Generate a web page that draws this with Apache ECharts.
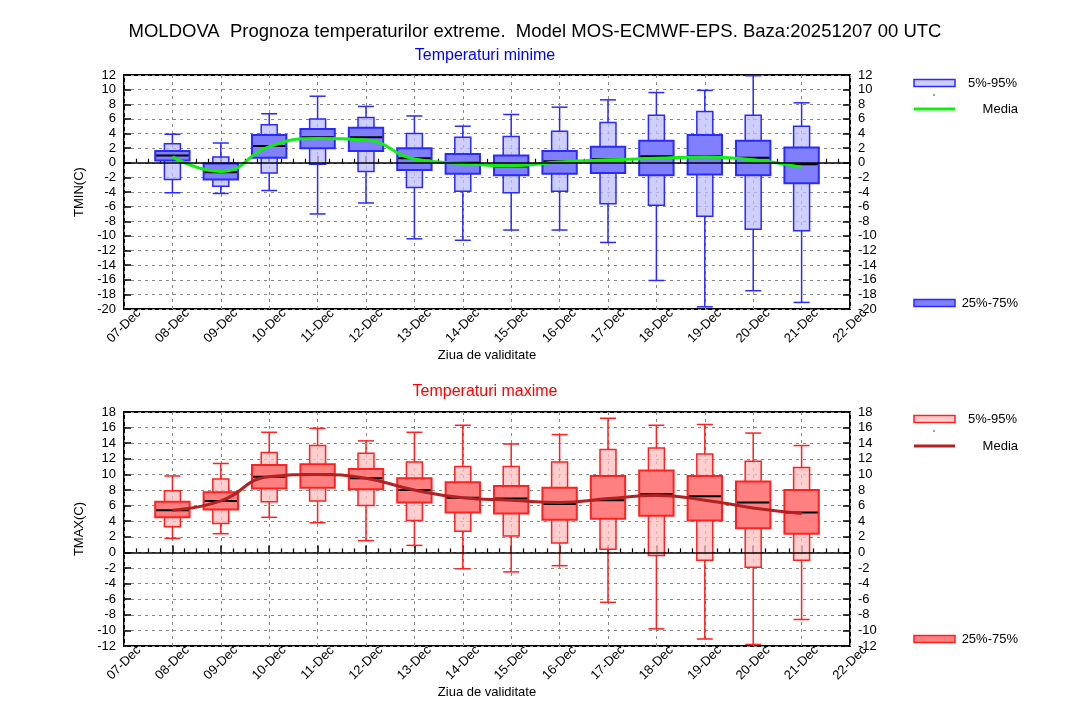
<!DOCTYPE html>
<html><head><meta charset="utf-8">
<script src="https://cdn.jsdelivr.net/npm/echarts@6/dist/echarts.min.js"></script>
<style>html,body{margin:0;padding:0;background:#fff}#c{width:1091px;height:723px}</style>
</head><body><div id="c"></div>
<script>
const tickLabels = ['07-Dec','08-Dec','09-Dec','10-Dec','11-Dec','12-Dec','13-Dec','14-Dec','15-Dec','16-Dec','17-Dec','18-Dec','19-Dec','20-Dec','21-Dec','22-Dec'];
const days = ['08-Dec','09-Dec','10-Dec','11-Dec','12-Dec','13-Dec','14-Dec','15-Dec','16-Dec','17-Dec','18-Dec','19-Dec','20-Dec','21-Dec'];

const tminMin  = [-4.1,-4.2,-3.8,-7.0,-5.5,-10.4,-10.6,-9.2,-9.2,-10.9,-16.1,-19.7,-17.5,-19.1];
const tminP5   = [-2.3,-3.2,-1.4,-0.2,-1.2,-3.4,-3.9,-4.1,-3.9,-5.6,-5.8,-7.3,-9.1,-9.3];
const tminP25  = [0.3,-2.3,0.7,2.0,1.6,-1.0,-1.5,-1.7,-1.5,-1.4,-1.7,-1.6,-1.7,-2.8];
const tminMed  = [1.0,-1.3,2.3,3.5,3.5,0.6,0.0,-0.5,0.2,0.5,0.9,0.9,0.7,-0.2];
const tminP75  = [1.6,-0.1,3.8,4.6,4.8,2.0,1.2,1.0,1.6,2.2,3.0,3.8,3.0,2.1];
const tminP95  = [2.6,0.8,5.2,6.0,6.2,4.0,3.5,3.6,4.3,5.5,6.5,7.0,6.5,5.0];
const tminMax  = [3.9,2.7,6.7,9.1,7.7,6.4,5.0,6.6,7.6,8.6,9.6,9.9,11.9,8.2];
const tminMean = [0.8,-1.2,2.2,3.3,3.1,0.5,-0.1,-0.4,0.1,0.4,0.6,0.8,0.4,-0.6];

const tmaxMin  = [1.8,2.4,4.5,3.8,1.5,0.9,-2.1,-2.5,-1.7,-6.4,-9.8,-11.1,-11.8,-8.6];
const tmaxP5   = [3.3,3.7,6.5,6.6,6.0,4.1,2.7,2.1,1.2,0.4,-0.4,-1.0,-1.9,-1.0];
const tmaxP25  = [4.5,5.5,8.2,8.3,8.1,6.4,5.1,5.0,4.2,4.3,4.7,4.1,3.1,2.4];
const tmaxMed  = [5.4,6.6,9.7,10.0,9.5,8.0,7.0,6.9,6.2,6.7,7.5,7.2,6.4,5.1];
const tmaxP75  = [6.5,7.7,11.2,11.3,10.7,9.5,9.0,8.5,8.3,9.8,10.5,9.8,9.1,8.0];
const tmaxP95  = [7.9,9.4,12.8,13.7,12.7,11.6,11.0,11.0,11.6,13.2,13.4,12.6,11.7,10.9];
const tmaxMax  = [9.8,11.4,15.4,15.9,14.3,15.4,16.3,13.9,15.1,17.2,16.3,16.4,15.3,13.7];
const tmaxMean = [5.4,6.6,9.7,10.0,9.5,8.0,7.0,6.7,6.4,6.9,7.3,6.7,5.7,5.0];

const FONT = '"Liberation Sans", Arial, Helvetica, sans-serif';
const FS = 13;
const xi = d => tickLabels.indexOf(d);

function boxData(mn, p5, p25, md, p75, p95, mx) {
  return days.map((d, i) => [xi(d), mn[i], p5[i], p25[i], md[i], p75[i], p95[i], mx[i]]);
}
function meanData(m) { return days.map((d, i) => [xi(d), m[i]]); }

function outerRender(stroke, fill) {
  return function (params, api) {
    const x = api.value(0);
    const w = api.size([1, 0])[0] * 0.33;
    const pMin = api.coord([x, api.value(1)]);
    const p5 = api.coord([x, api.value(2)]);
    const p95 = api.coord([x, api.value(6)]);
    const pMax = api.coord([x, api.value(7)]);
    const cx = p5[0];
    const ls = { stroke: stroke, lineWidth: 1.5 };
    return { type: 'group', children: [
      { type: 'rect', shape: { x: cx - w / 2, y: p95[1], width: w, height: p5[1] - p95[1] }, style: { fill: fill, stroke: stroke, lineWidth: 1.5 } },
      { type: 'line', shape: { x1: cx, y1: p95[1], x2: cx, y2: pMax[1] }, style: ls },
      { type: 'line', shape: { x1: cx, y1: p5[1], x2: cx, y2: pMin[1] }, style: ls },
      { type: 'line', shape: { x1: cx - w / 2, y1: pMax[1], x2: cx + w / 2, y2: pMax[1] }, style: ls },
      { type: 'line', shape: { x1: cx - w / 2, y1: pMin[1], x2: cx + w / 2, y2: pMin[1] }, style: ls }
    ]};
  };
}
function innerRender(stroke, fill) {
  return function (params, api) {
    const x = api.value(0);
    const w = api.size([1, 0])[0] * 0.71;
    const p25 = api.coord([x, api.value(3)]);
    const pm = api.coord([x, api.value(4)]);
    const p75 = api.coord([x, api.value(5)]);
    const cx = p25[0];
    return { type: 'group', children: [
      { type: 'rect', shape: { x: cx - w / 2, y: p75[1], width: w, height: p25[1] - p75[1] }, style: { fill: fill, stroke: stroke, lineWidth: 2 } },
      { type: 'line', shape: { x1: cx - w / 2 + 1, y1: pm[1], x2: cx + w / 2 - 1, y2: pm[1] }, style: { stroke: '#000', lineWidth: 2 } }
    ]};
  };
}

const gridTop = { left: 124, right: 241, top: 75, height: 234, show: true, borderColor: '#000', borderWidth: 2, backgroundColor: 'transparent' };
const gridBot = { left: 124, right: 241, top: 412, height: 234, show: true, borderColor: '#000', borderWidth: 2, backgroundColor: 'transparent' };

function xAxis(gi) {
  return {
    type: 'value', gridIndex: gi, min: 0, max: 15, interval: 1,
    name: 'Ziua de validitate', nameLocation: 'middle', nameGap: 34,
    nameTextStyle: { fontFamily: FONT, fontSize: FS, color: '#000' },
    axisLine: { show: false },
    axisTick: { show: true, inside: true, length: 7, lineStyle: { color: '#000', width: 1.5 } },
    minorTick: { show: true, splitNumber: 4, length: 4, lineStyle: { color: '#000', width: 1.2 } },
    splitLine: { show: true, lineStyle: { color: '#888', width: 1, type: [3, 4] } },
    axisLabel: { rotate: 45, margin: 17, align: 'center', verticalAlign: 'middle',
      fontFamily: FONT, fontSize: FS, color: '#000', formatter: v => tickLabels[v] || '' }
  };
}
function yAxes(gi, min, max, name) {
  const base = {
    type: 'value', gridIndex: gi, min: min, max: max, interval: 2,
    axisLine: { show: false },
    axisTick: { show: true, inside: true, length: 7, lineStyle: { color: '#000', width: 1.5 } },
    axisLabel: { fontFamily: FONT, fontSize: FS, color: '#000', margin: 8 }
  };
  return [
    Object.assign({}, base, { position: 'left', name: name, nameLocation: 'middle', nameGap: 30,
      nameTextStyle: { fontFamily: FONT, fontSize: FS, color: '#000' },
      splitLine: { show: true, lineStyle: { color: '#888', width: 1, type: [3, 4] } } }),
    Object.assign({}, base, { position: 'right', splitLine: { show: false } })
  ];
}

const BLUE = '#2a2aff', BLUE_L = 'rgba(190,190,255,0.75)', BLUE_M = '#8080ff';
const RED = '#ff2020', RED_L = 'rgba(255,190,190,0.75)', RED_M = '#ff8080';
const GREEN = '#11ee11', DRED = '#b22222';

function legend(y1, y2, y3, stroke, lightFill, midFill, lineColor) {
  const tf = FS + 'px ' + FONT;
  return [
    { type: 'rect', shape: { x: 914, y: y1 - 3.5, width: 41, height: 7 }, style: { fill: lightFill, stroke: stroke, lineWidth: 1.5 } },
    { type: 'text', x: 968, y: y1, style: { text: '5%-95%', font: tf, fill: '#000', verticalAlign: 'middle' } },
    { type: 'circle', shape: { cx: 934, cy: y1 + 12, r: 0.7 }, style: { fill: '#000' } },
    { type: 'line', shape: { x1: 914, y1: y2, x2: 955, y2: y2 }, style: { stroke: lineColor, lineWidth: 3 } },
    { type: 'text', x: 1018, y: y2, style: { text: 'Media', font: tf, fill: '#000', align: 'right', verticalAlign: 'middle' } },
    { type: 'rect', shape: { x: 914, y: y3 - 3.5, width: 41, height: 7 }, style: { fill: midFill, stroke: stroke, lineWidth: 1.5 } },
    { type: 'text', x: 1018, y: y3, style: { text: '25%-75%', font: tf, fill: '#000', align: 'right', verticalAlign: 'middle' } }
  ];
}

const zeroLine = {
  silent: true, symbol: 'none', label: { show: false },
  lineStyle: { color: '#000', width: 1.5, type: 'solid' },
  data: [{ yAxis: 0 }]
};

const option = {
  animation: false,
  backgroundColor: '#fff',
  title: [
    { text: 'MOLDOVA  Prognoza temperaturilor extreme.  Model MOS-ECMWF-EPS. Baza:20251207 00 UTC', left: 535, top: 22, padding: 0, textAlign: 'center',
      textStyle: { fontFamily: FONT, fontSize: 18.5, fontWeight: 'normal', color: '#000' } },
    { text: 'Temperaturi minime', left: 485, top: 48, padding: 0, textAlign: 'center', textStyle: { fontFamily: FONT, fontSize: 16, fontWeight: 'normal', color: '#0000ff' } },
    { text: 'Temperaturi maxime', left: 485, top: 384, padding: 0, textAlign: 'center', textStyle: { fontFamily: FONT, fontSize: 16, fontWeight: 'normal', color: '#ff0000' } }
  ],
  grid: [gridTop, gridBot],
  xAxis: [xAxis(0), xAxis(1)],
  yAxis: yAxes(0, -20, 12, 'TMIN(C)').concat(yAxes(1, -12, 18, 'TMAX(C)')),
  graphic: legend(83, 109, 303, BLUE, BLUE_L, BLUE_M, GREEN).concat(legend(419, 446, 639, RED, RED_L, RED_M, DRED)),
  series: [
    { type: 'custom', name: 'tmin5-95', xAxisIndex: 0, yAxisIndex: 0, z: 2, renderItem: outerRender(BLUE, BLUE_L),
      encode: { x: 0, y: [1, 7] }, data: boxData(tminMin, tminP5, tminP25, tminMed, tminP75, tminP95, tminMax), markLine: zeroLine },
    { type: 'custom', name: 'tmin25-75', xAxisIndex: 0, yAxisIndex: 0, z: 3, renderItem: innerRender(BLUE, BLUE_M),
      encode: { x: 0, y: [3, 5] }, data: boxData(tminMin, tminP5, tminP25, tminMed, tminP75, tminP95, tminMax) },
    { type: 'line', name: 'tminMedia', xAxisIndex: 0, yAxisIndex: 0, z: 4, smooth: true, symbol: 'none',
      lineStyle: { color: GREEN, width: 3 }, data: meanData(tminMean) },
    { type: 'custom', name: 'tmax5-95', xAxisIndex: 1, yAxisIndex: 2, z: 2, renderItem: outerRender(RED, RED_L),
      encode: { x: 0, y: [1, 7] }, data: boxData(tmaxMin, tmaxP5, tmaxP25, tmaxMed, tmaxP75, tmaxP95, tmaxMax), markLine: zeroLine },
    { type: 'custom', name: 'tmax25-75', xAxisIndex: 1, yAxisIndex: 2, z: 3, renderItem: innerRender(RED, RED_M),
      encode: { x: 0, y: [3, 5] }, data: boxData(tmaxMin, tmaxP5, tmaxP25, tmaxMed, tmaxP75, tmaxP95, tmaxMax) },
    { type: 'line', name: 'tmaxMedia', xAxisIndex: 1, yAxisIndex: 2, z: 4, smooth: true, symbol: 'none',
      lineStyle: { color: DRED, width: 3 }, data: meanData(tmaxMean) }
  ]
};
const chart = echarts.init(document.getElementById('c'));
chart.setOption(option);
</script>
</body></html>
